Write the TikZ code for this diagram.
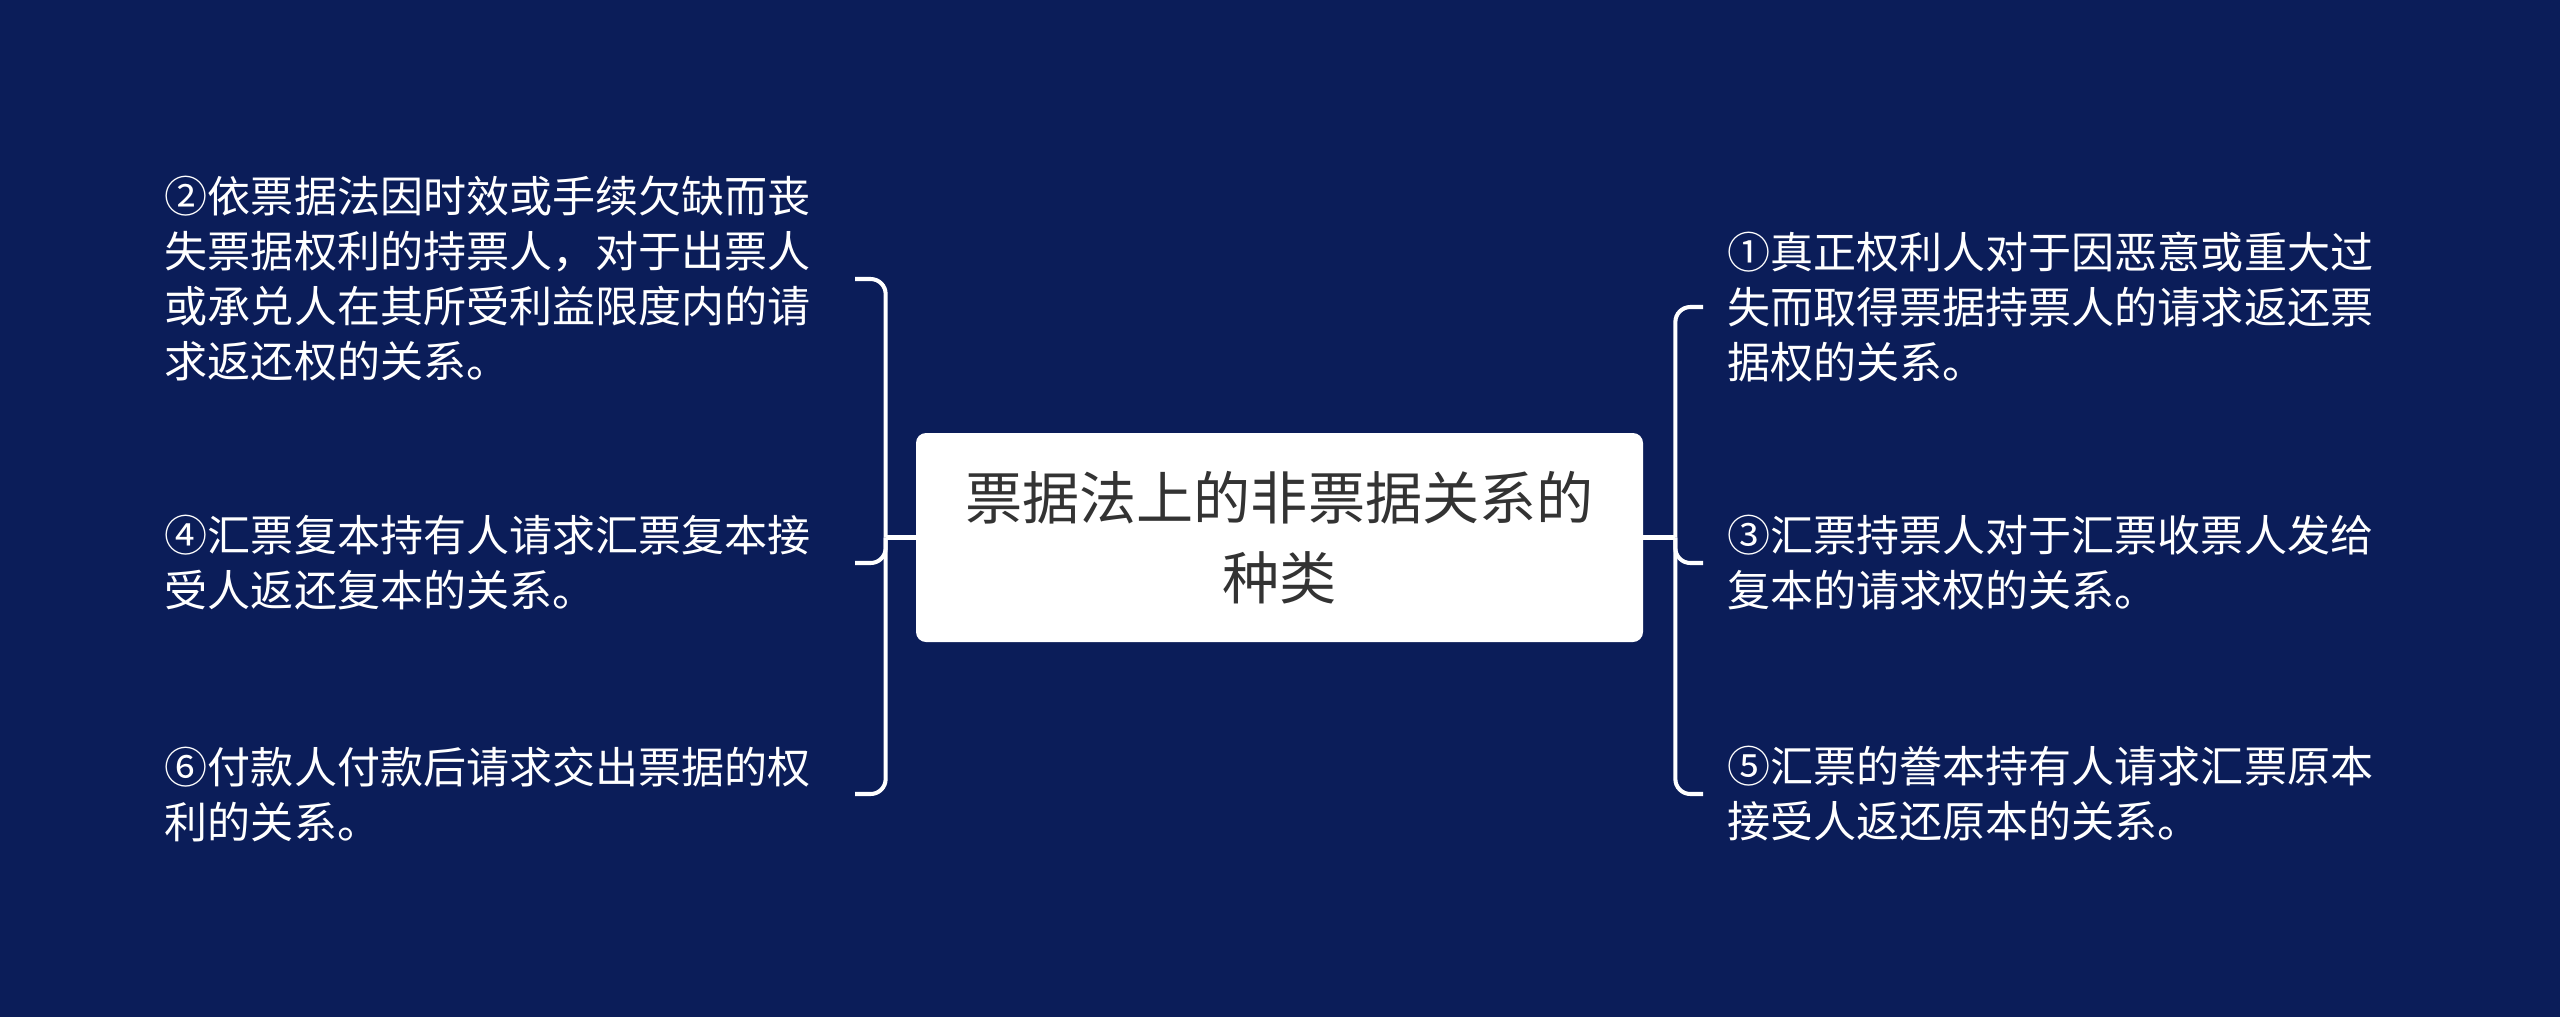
\documentclass[tikz,border=0pt]{standalone}
\usepackage{fontspec}
\setmainfont{Noto Sans CJK SC}
\usepackage{tikz}
\usetikzlibrary{positioning}
\definecolor{navy}{RGB}{11,29,89}
\definecolor{rootink}{RGB}{51,51,51}

\begin{document}
\begin{tikzpicture}[
  root/.style={fill=white, rounded corners=0.2cm, align=center, text=rootink,
    minimum width=14.54cm, minimum height=4.18cm, inner sep=0pt,
    font=\fontsize{32.5}{45.5}\selectfont},
  leaf/.style={align=left, text=white, inner ysep=0pt,
    font=\fontsize{24.5}{31.3}\selectfont},
  lleaf/.style={leaf, anchor=east, inner xsep=0.88cm},
  rleaf/.style={leaf, anchor=west, inner xsep=0.48cm},
  link/.style={draw=white, line width=2.3pt, rounded corners=0.3cm}
]

\fill[navy] (0,0) rectangle (51.2,-20.34);
\useasboundingbox (0,0) rectangle (51.2,-20.34);

\node[root] (root) at (25.59,-10.75) {票据法上的非票据关系的\\种类};

\node[lleaf] (l2) at (17.10,-5.58) {②依票据法因时效或手续欠缺而丧\\失票据权利的持票人，对于出票人\\或承兑人在其所受利益限度内的请\\求返还权的关系。};
\node[lleaf] (l4) at (17.10,-11.26) {④汇票复本持有人请求汇票复本接\\受人返还复本的关系。};
\node[lleaf] (l6) at (17.10,-15.88) {⑥付款人付款后请求交出票据的权\\利的关系。};

\node[rleaf] (r1) at (34.06,-6.14) {①真正权利人对于因恶意或重大过\\失而取得票据持票人的请求返还票\\据权的关系。};
\node[rleaf] (r3) at (34.06,-11.26) {③汇票持票人对于汇票收票人发给\\复本的请求权的关系。};
\node[rleaf] (r5) at (34.06,-15.88) {⑤汇票的誊本持有人请求汇票原本\\接受人返还原本的关系。};

\coordinate (ljoin) at ([xshift=-0.6cm]root.west);
\coordinate (rjoin) at ([xshift=0.64cm]root.east);

\draw[link] (root.west) -- (ljoin);
\draw[link] (ljoin) |- (l2.east);
\draw[link] (ljoin) |- (l4.east);
\draw[link] (ljoin) |- (l6.east);

\draw[link] (root.east) -- (rjoin);
\draw[link] (rjoin) |- (r1.west);
\draw[link] (rjoin) |- (r3.west);
\draw[link] (rjoin) |- (r5.west);

\end{tikzpicture}
\end{document}
